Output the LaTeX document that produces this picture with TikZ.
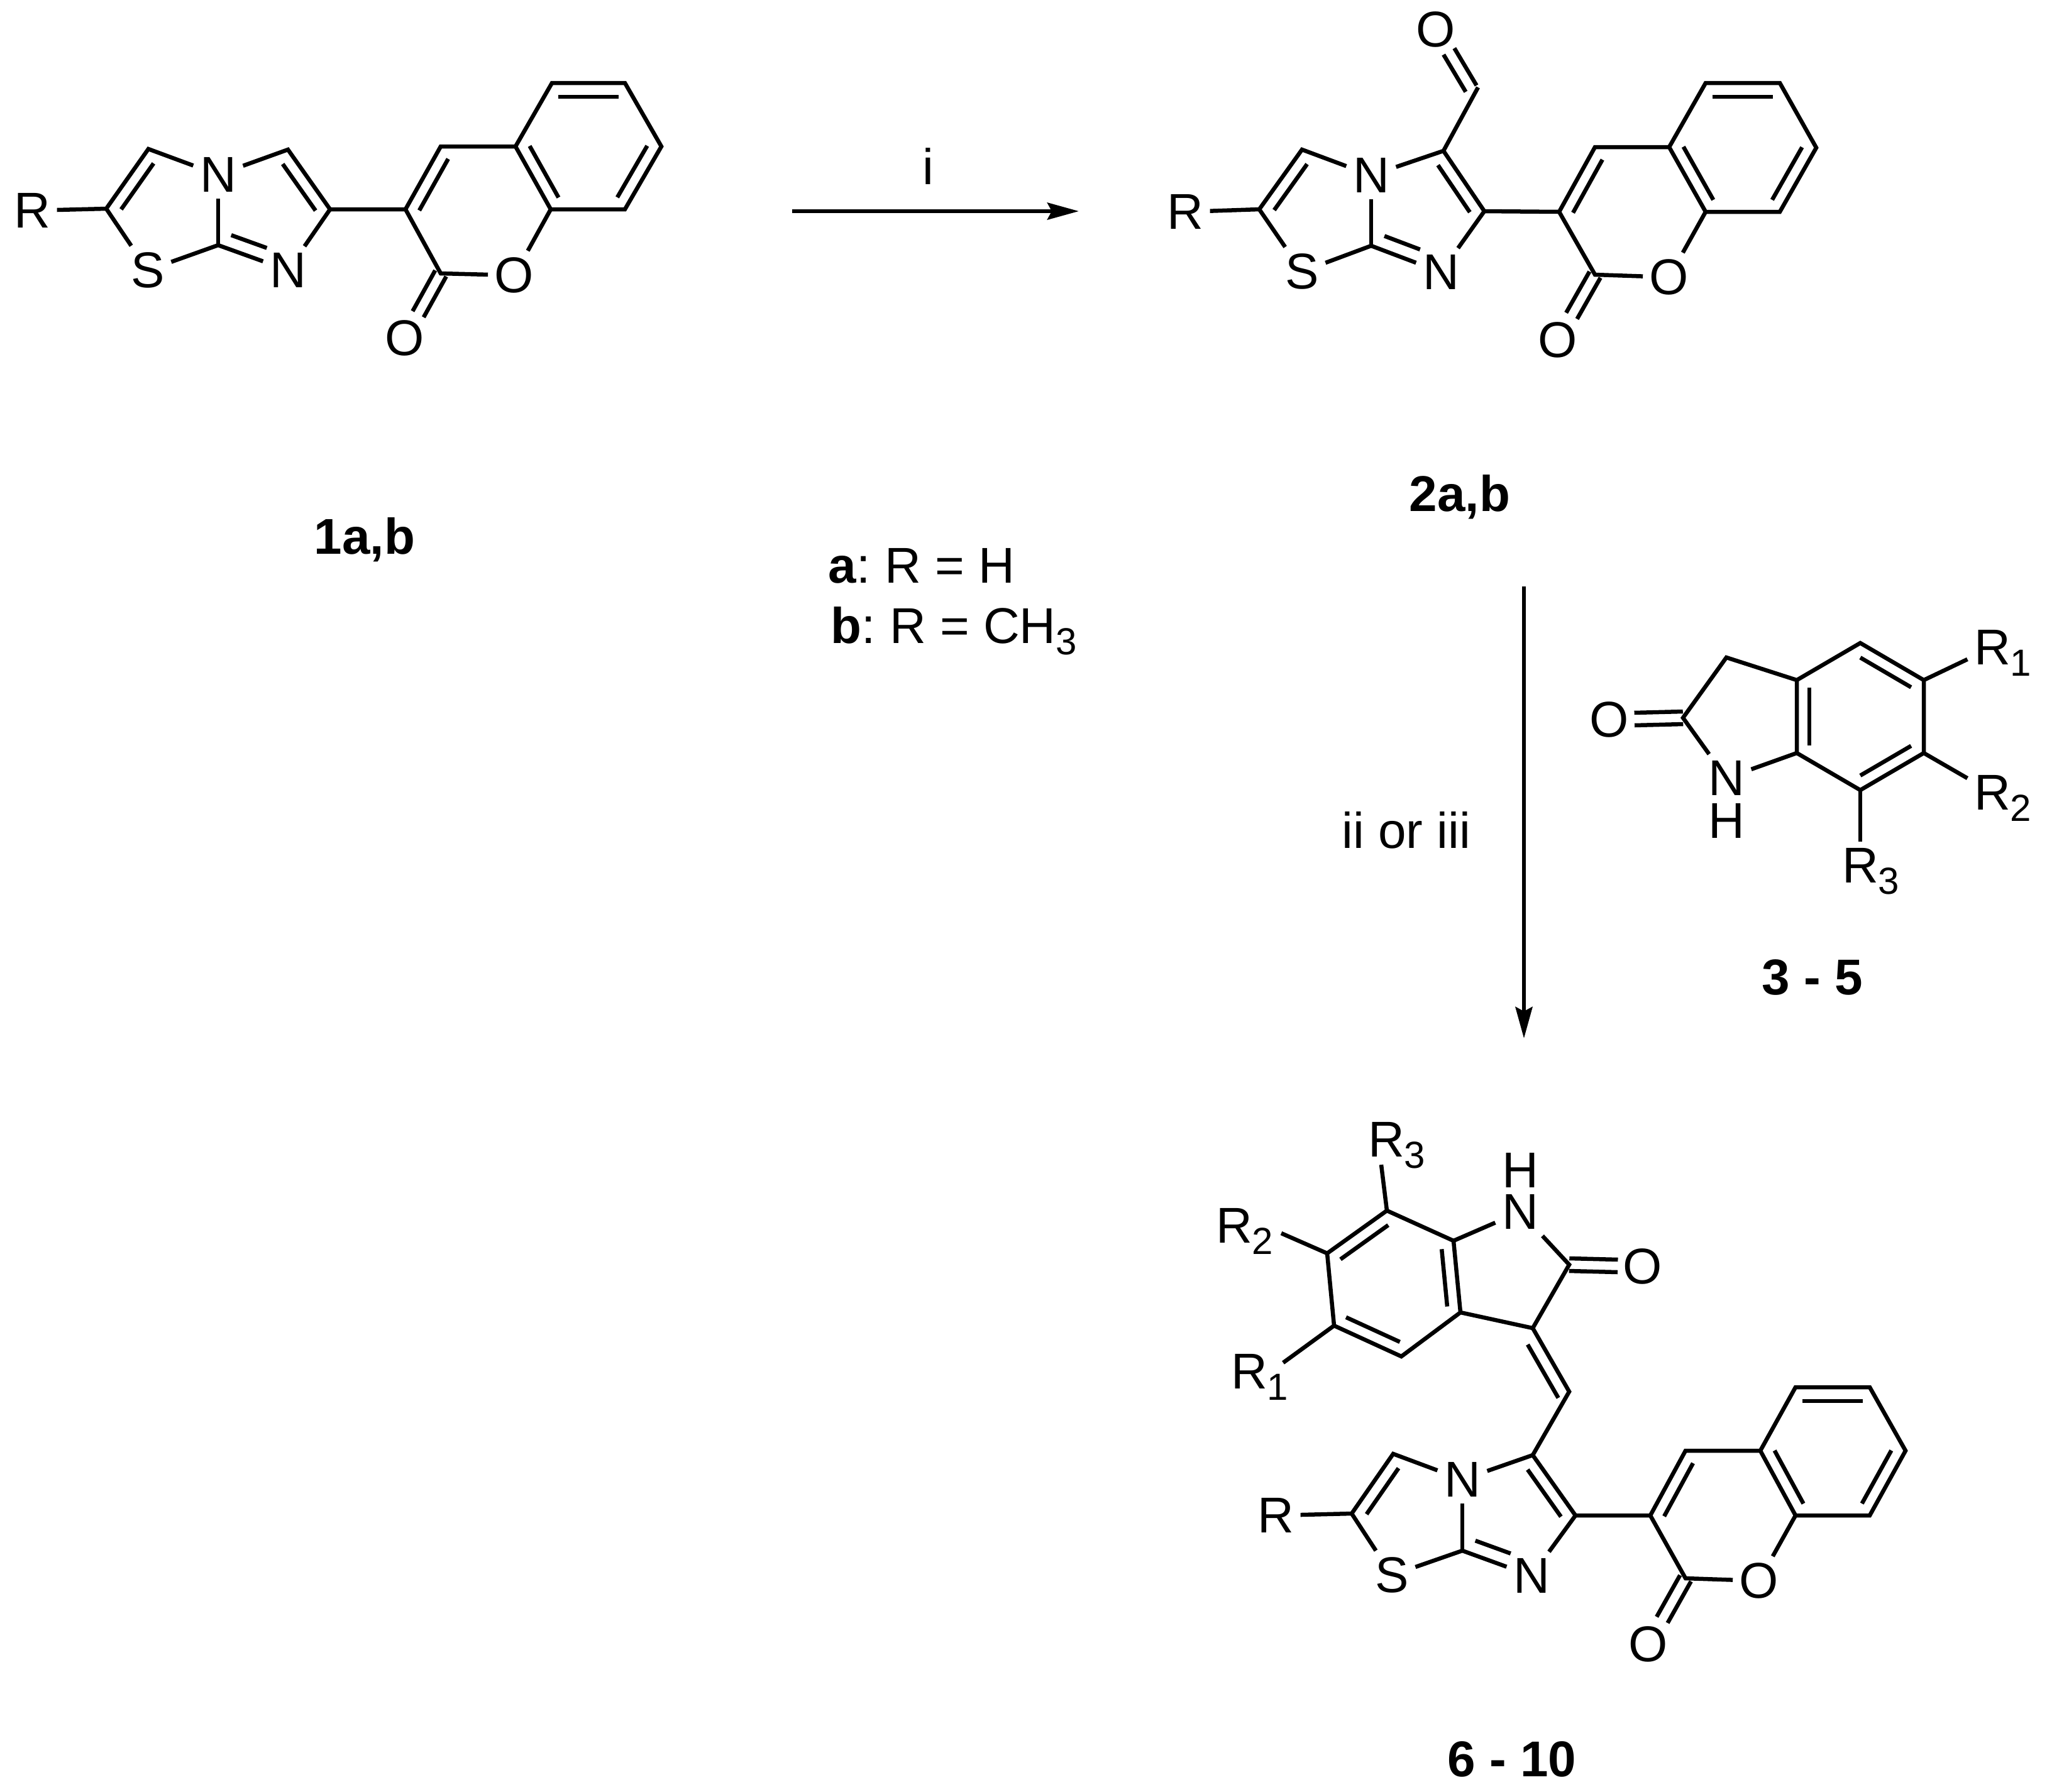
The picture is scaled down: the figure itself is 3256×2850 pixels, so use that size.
\documentclass[tikz,border=0pt]{standalone}
\usepackage{fontspec}
\setmainfont{Liberation Sans}
\usetikzlibrary{arrows.meta,calc}
\frenchspacing

\newcommand{\atomfont}{\fontsize{22.76}{27}\selectfont}
\newcommand{\subdigit}[1]{\rlap{\raisebox{-0.18cm}[0pt][0pt]{\fontsize{17.07}{20}\selectfont #1}}}
\newcommand{\innerbond}[5]{\draw[bond] ($(#1)!#4!(#2)!#3!90:(#2)$) -- ($(#2)!#5!(#1)!#3!-90:(#1)$);}
\newcommand{\twinbond}[3]{
    \draw[bond] ($(#1)!0.1cm!90:(#2)$) -- ($(#1)!#3!(#2)!0.1cm!90:(#2)$);
    \draw[bond] ($(#1)!-0.1cm!90:(#2)$) -- ($(#1)!#3!(#2)!-0.1cm!90:(#2)$);
}

\tikzset{
    bond/.style={line width=0.065cm},
    atom/.style={inner sep=0.1cm, font=\atomfont},
    txt/.style={inner sep=0pt, anchor=base, font=\atomfont},
    rxn/.style={line width=0.06cm, -{Stealth[length=0.5cm, width=0.27cm, inset=0.07cm]}}
}

\begin{document}
\begin{tikzpicture}[x=0.01cm, y=-0.01cm]
        \useasboundingbox (0,0) rectangle (3256,2850);

        % starting material
        \node[atom] (aR) at (51,335) {R};
        \node[atom] (aN) at (347,278) {N};
        \node[atom] (aS) at (235,430) {S};
        \node[atom] (aNb) at (458,430) {N};
        \node[atom] (aO) at (818,438) {O};
        \node[atom] (aOc) at (644,538) {O};
        \coordinate (a1) at (169,332);
        \coordinate (a2) at (236,237);
        \coordinate (a3) at (458,238);
        \coordinate (a4) at (525,333);
        \coordinate (a5) at (347,390);
        \coordinate (a6) at (645,333);
        \coordinate (a7) at (701,233);
        \coordinate (a8) at (820,233);
        \coordinate (a9) at (876,333);
        \coordinate (a10) at (994,333);
        \coordinate (a11) at (1052,233);
        \coordinate (a12) at (994,132);
        \coordinate (a13) at (878,132);
        \coordinate (a14) at (701,435);

        \draw[bond] (aR) -- (a1) -- (a2) -- (aN) -- (a3) -- (a4) -- (aNb) -- (a5) -- (aS) -- (a1);
        \draw[bond] (aN) -- (a5);
        \draw[bond] (a4) -- (a6) -- (a7) -- (a8) -- (a9) -- (aO) -- (a14) -- (a6);
        \draw[bond] (a8) -- (a13) -- (a12) -- (a11) -- (a10) -- (a9);
        \innerbond{a1}{a2}{-0.2cm}{.11}{.12}
        \innerbond{a3}{a4}{-0.2cm}{.12}{.1}
        \innerbond{a5}{aNb}{0.22cm}{.12}{.37}
        \innerbond{a6}{a7}{-0.2cm}{.08}{.1}
        \innerbond{a8}{a9}{0.2cm}{.09}{.09}
        \innerbond{a10}{a11}{0.2cm}{.09}{.09}
        \innerbond{a13}{a12}{-0.22cm}{.09}{.09}
        \twinbond{a14}{aOc}{.63}

        % aldehyde
        \node[atom] (bR) at (1885,337) {R};
        \node[atom] (bN) at (2181,279) {N};
        \node[atom] (bS) at (2071,432) {S};
        \node[atom] (bNb) at (2292,433) {N};
        \node[atom] (bO) at (2655,441) {O};
        \node[atom] (bOc) at (2478,541) {O};
        \node[atom] (bOa) at (2284,47) {O};
        \coordinate (b1) at (2003,333);
        \coordinate (b2) at (2071,238);
        \coordinate (b3) at (2296,240);
        \coordinate (b4) at (2361,336);
        \coordinate (b5) at (2181,391);
        \coordinate (b6) at (2480,337);
        \coordinate (b7) at (2537,234);
        \coordinate (b8) at (2655,234);
        \coordinate (b9) at (2713,337);
        \coordinate (b10) at (2831,337);
        \coordinate (b11) at (2889,235);
        \coordinate (b12) at (2831,132);
        \coordinate (b13) at (2713,132);
        \coordinate (b14) at (2537,437);
        \coordinate (b15) at (2351,139);
        \coordinate (b16) at (2340,141);

        \draw[bond] (bR) -- (b1) -- (b2) -- (bN) -- (b3) -- (b4) -- (bNb) -- (b5) -- (bS) -- (b1);
        \draw[bond] (bN) -- (b5);
        \draw[bond] (b3) -- (b15);
        \draw[bond] (b4) -- (b6) -- (b7) -- (b8) -- (b9) -- (bO) -- (b14) -- (b6);
        \draw[bond] (b8) -- (b13) -- (b12) -- (b11) -- (b10) -- (b9);
        \innerbond{b1}{b2}{-0.2cm}{.11}{.12}
        \innerbond{b3}{b4}{-0.2cm}{.12}{.1}
        \innerbond{b5}{bNb}{0.22cm}{.12}{.37}
        \innerbond{b6}{b7}{-0.2cm}{.08}{.1}
        \innerbond{b8}{b9}{0.2cm}{.09}{.09}
        \innerbond{b10}{b11}{0.2cm}{.09}{.09}
        \innerbond{b13}{b12}{-0.22cm}{.09}{.09}
        \twinbond{b14}{bOc}{.63}
        \twinbond{b16}{bOa}{.63}

        % oxindole reagent
        \node[atom] (dO) at (2560,1145) {O};
        \node[atom] (dN) at (2746,1238) {N};
        \node[atom] (dH) at (2746,1306) {H};
        \node[atom] (dR1) at (3169,1030) {R\subdigit{1}};
        \node[atom] (dR2) at (3169,1261) {R\subdigit{2}};
        \node[atom] (dR3) at (2959,1377) {R\subdigit{3}};
        \coordinate (d1) at (2677,1142);
        \coordinate (d2) at (2746,1046);
        \coordinate (d3) at (2858,1082);
        \coordinate (d4) at (2959,1023);
        \coordinate (d5) at (3060,1082);
        \coordinate (d6) at (3060,1198);
        \coordinate (d7) at (2959,1257);
        \coordinate (d8) at (2858,1198);

        \draw[bond] (dN) -- (d1) -- (d2) -- (d3) -- (d4) -- (d5) -- (d6) -- (d7) -- (d8) -- (d3);
        \draw[bond] (d8) -- (dN);
        \draw[bond] (d5) -- (dR1);
        \draw[bond] (d6) -- (dR2);
        \draw[bond] (d7) -- (dR3);
        \innerbond{d3}{d8}{0.2cm}{.1}{.1}
        \innerbond{d4}{d5}{-0.2cm}{.1}{.1}
        \innerbond{d6}{d7}{-0.2cm}{.1}{.1}
        \twinbond{d1}{dO}{.66}

        % product
        \node[atom] (cR) at (2029,2411) {R};
        \node[atom] (cN) at (2326,2354) {N};
        \node[atom] (cS) at (2214,2506) {S};
        \node[atom] (cNb) at (2436,2507) {N};
        \node[atom] (cO) at (2798,2515) {O};
        \node[atom] (cOc) at (2622,2616) {O};
        \coordinate (c1) at (2150,2408);
        \coordinate (c2) at (2216,2313);
        \coordinate (c3) at (2438,2315);
        \coordinate (c4) at (2506,2411);
        \coordinate (c5) at (2326,2467);
        \coordinate (c6) at (2625,2411);
        \coordinate (c7) at (2681,2308);
        \coordinate (c8) at (2800,2308);
        \coordinate (c9) at (2856,2411);
        \coordinate (c10) at (2974,2411);
        \coordinate (c11) at (3031,2308);
        \coordinate (c12) at (2974,2207);
        \coordinate (c13) at (2856,2207);
        \coordinate (c14) at (2681,2511);
        \coordinate (c15) at (2496,2214);

        \draw[bond] (cR) -- (c1) -- (c2) -- (cN) -- (c3) -- (c4) -- (cNb) -- (c5) -- (cS) -- (c1);
        \draw[bond] (cN) -- (c5);
        \draw[bond] (c4) -- (c6) -- (c7) -- (c8) -- (c9) -- (cO) -- (c14) -- (c6);
        \draw[bond] (c8) -- (c13) -- (c12) -- (c11) -- (c10) -- (c9);
        \innerbond{c1}{c2}{-0.2cm}{.11}{.12}
        \innerbond{c3}{c4}{-0.2cm}{.12}{.1}
        \innerbond{c5}{cNb}{0.22cm}{.12}{.37}
        \innerbond{c6}{c7}{-0.2cm}{.08}{.1}
        \innerbond{c8}{c9}{0.2cm}{.09}{.09}
        \innerbond{c10}{c11}{0.2cm}{.09}{.09}
        \innerbond{c13}{c12}{-0.22cm}{.09}{.09}
        \twinbond{c14}{cOc}{.63}

        \node[atom] (eO) at (2613,2015) {O};
        \node[atom] (eN) at (2418,1928) {N};
        \node[atom] (eH) at (2418,1862) {H};
        \node[atom] (eR1) at (1987,2182) {R\subdigit{1}};
        \node[atom] (eR2) at (1963,1950) {R\subdigit{2}};
        \node[atom] (eR3) at (2205,1813) {R\subdigit{3}};
        \coordinate (e1) at (2496,2012);
        \coordinate (e2) at (2438,2113);
        \coordinate (e3) at (2323,2088);
        \coordinate (e4) at (2229,2158);
        \coordinate (e5) at (2122,2109);
        \coordinate (e6) at (2111,1994);
        \coordinate (e7) at (2206,1926);
        \coordinate (e8) at (2312,1974);
        \coordinate (e9) at (2041,2168);
        \coordinate (e10) at (2038,1962);
        \coordinate (e11) at (2197,1853);

        \draw[bond] (eN) -- (e1) -- (e2) -- (e3) -- (e4) -- (e5) -- (e6) -- (e7) -- (e8) -- (e3);
        \draw[bond] (e8) -- (eN);
        \draw[bond] (e5) -- (e9);
        \draw[bond] (e6) -- (e10);
        \draw[bond] (e7) -- (e11);
        \draw[bond] (e2) -- (c15) -- (c3);
        \innerbond{e6}{e7}{-0.2cm}{.1}{.1}
        \innerbond{e8}{e3}{-0.2cm}{.1}{.1}
        \innerbond{e4}{e5}{-0.2cm}{.1}{.1}
        \innerbond{e2}{c15}{-0.2cm}{.16}{.0}
        \twinbond{e1}{eO}{.66}

        % arrows
        \coordinate (s1) at (1260,336);
        \coordinate (t1) at (1716,336);
        \coordinate (s2) at (2424,933);
        \coordinate (t2) at (2424,1652);
        \draw[rxn] (s1) -- (t1);
        \draw[rxn] (s2) -- (t2);

        % text
        \node[txt] (stepi) at (1476,293) {i};
        \node[txt] (stepii) at (2237,1349) {ii or iii};
        \node[txt] (name1) at (580,881) {\textbf{1a,b}};
        \node[txt] (name2) at (2322,813) {\textbf{2a,b}};
        \node[txt] (name3) at (2883,1582) {\textbf{3 - 5}};
        \node[txt] (name4) at (2405,2826) {\textbf{6 - 10}};
        \node[txt, anchor=base west] (keya) at (1317,927) {\textbf{a}: R = H};
        \node[txt, anchor=base west] (keyb) at (1321,1023) {\textbf{b}: R = CH\subdigit{3}};
    \end{tikzpicture}
\end{document}
